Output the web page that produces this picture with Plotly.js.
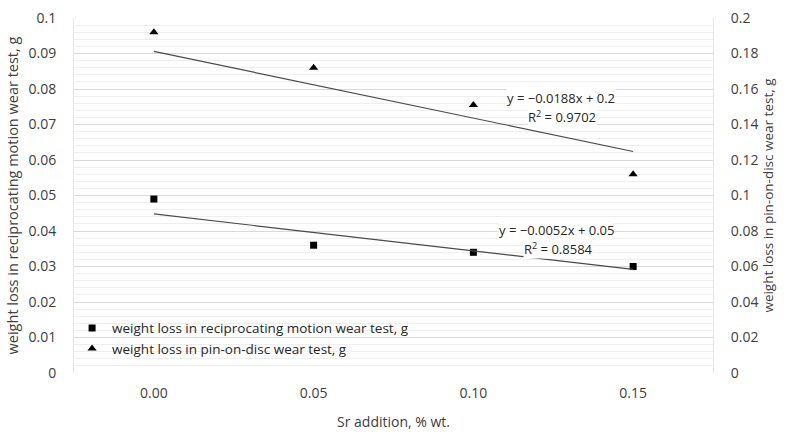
<!DOCTYPE html>
<html>
<head>
<meta charset="utf-8">
<script src="https://cdn.plot.ly/plotly-3.0.1.min.js"></script>
<style>html,body{margin:0;padding:0;background:#fff;}#chart{width:789px;height:435px;}</style>
</head>
<body>
<div id="chart"></div>
<script>
// Data
const categories = ["0.00", "0.05", "0.10", "0.15"];
const reciprocating = [0.049, 0.036, 0.034, 0.030];   // left axis, g
const pinOnDisc = [0.192, 0.172, 0.151, 0.112];       // right axis, g
// Excel linear trendlines (x = category index 1..n)
const trendRecip = {slope: -0.0052, intercept: 0.05, r2: "0.8584"};
const trendPin = {slope: -0.0188, intercept: 0.2, r2: "0.9702"};

const idx = categories.map((c, i) => i);
const trendY = t => idx.map(i => t.slope * (i + 1) + t.intercept);

const FONT = "Open Sans, Lato, sans-serif";
const fmt = t => "y = \u2212" + Math.abs(t.slope).toFixed(4) + "x + " + t.intercept;

const traces = [
  {x: idx, y: reciprocating, type: "scatter", mode: "markers", name: "weight loss in reciprocating motion wear test, g",
   marker: {symbol: "square", size: 7, color: "#000"}, yaxis: "y", cliponaxis: false},
  {x: idx, y: pinOnDisc, type: "scatter", mode: "markers", name: "weight loss in pin-on-disc wear test, g",
   marker: {symbol: "triangle-up", size: 8, color: "#000"}, yaxis: "y2", cliponaxis: false},
  {x: idx, y: trendY(trendRecip), type: "scatter", mode: "lines", showlegend: false,
   line: {color: "#4a4a4a", width: 1.2}, yaxis: "y", hoverinfo: "skip"},
  {x: idx, y: trendY(trendPin), type: "scatter", mode: "lines", showlegend: false,
   line: {color: "#4a4a4a", width: 1.2}, yaxis: "y2", hoverinfo: "skip"}
];

const gridMajor = "#d9d9d9", gridMinor = "#efefef";
const annFont = {family: FONT, size: 13, color: "#262626"};
const layout = {
  width: 789, height: 435,
  margin: {l: 74, r: 76, t: 18, b: 62},
  paper_bgcolor: "#fff", plot_bgcolor: "#fff",
  font: {family: FONT, size: 14, color: "#404040"},
  showlegend: true,
  legend: {x: -0.003, xanchor: "left", y: 0.17, yanchor: "top", bgcolor: "rgba(0,0,0,0)",
    font: {family: FONT, size: 13.5, color: "#262626"}, tracegroupgap: 0, itemwidth: 30},
  xaxis: {
    range: [-0.5, 3.5], tickmode: "array", tickvals: idx, ticktext: categories,
    showgrid: false, zeroline: false, showline: false, ticks: "", ticklabelstandoff: 10,
    tickfont: {family: FONT, size: 14, color: "#404040"},
    title: {text: "Sr addition, % wt.", font: {family: FONT, size: 14, color: "#404040"}, standoff: 16},
    fixedrange: true
  },
  yaxis: {
    range: [0, 0.1], dtick: 0.01, tick0: 0,
    showgrid: true, gridcolor: gridMajor, gridwidth: 1,
    minor: {dtick: 0.002, showgrid: true, gridcolor: gridMinor, gridwidth: 1},
    zeroline: false, showline: true, linecolor: "#e6e6e6", linewidth: 1,
    ticks: "", ticklabelstandoff: 14,
    tickfont: {family: FONT, size: 14, color: "#404040"},
    title: {text: "weight loss in reciprocating motion wear test, g", font: {family: FONT, size: 14.5, color: "#404040"}, standoff: 6},
    fixedrange: true
  },
  yaxis2: {
    range: [0, 0.2], dtick: 0.02, tick0: 0, overlaying: "y", side: "right",
    showgrid: false, zeroline: false, showline: true, linecolor: "#e6e6e6", linewidth: 1,
    ticks: "", ticklabelstandoff: 14,
    tickfont: {family: FONT, size: 14, color: "#404040"},
    title: {text: "weight loss in pin-on-disc wear test, g", font: {family: FONT, size: 13.5, color: "#404040"}, standoff: 6},
    fixedrange: true
  },
  annotations: [
    {xref: "paper", yref: "paper", xanchor: "center", yanchor: "middle", x: (561 - 74) / 639, y: (373 - 98) / 355, text: fmt(trendPin),
     showarrow: false, bgcolor: "#fff", font: annFont, borderpad: 0},
    {xref: "paper", yref: "paper", xanchor: "center", yanchor: "middle", x: (562 - 74) / 639, y: (373 - 117) / 355, text: "R<sup>2</sup> = " + trendPin.r2,
     showarrow: false, bgcolor: "#fff", font: annFont, borderpad: 0},
    {xref: "paper", yref: "paper", xanchor: "center", yanchor: "middle", x: (556 - 74) / 639, y: (373 - 230) / 355, text: fmt(trendRecip),
     showarrow: false, bgcolor: "#fff", font: annFont, borderpad: 0},
    {xref: "paper", yref: "paper", xanchor: "center", yanchor: "middle", x: (558 - 74) / 639, y: (373 - 248) / 355, text: "R<sup>2</sup> = " + trendRecip.r2,
     showarrow: false, bgcolor: "#fff", font: annFont, borderpad: 0}
  ]
};

Plotly.newPlot("chart", traces, layout, {displayModeBar: false, staticPlot: true});
</script>
</body>
</html>
